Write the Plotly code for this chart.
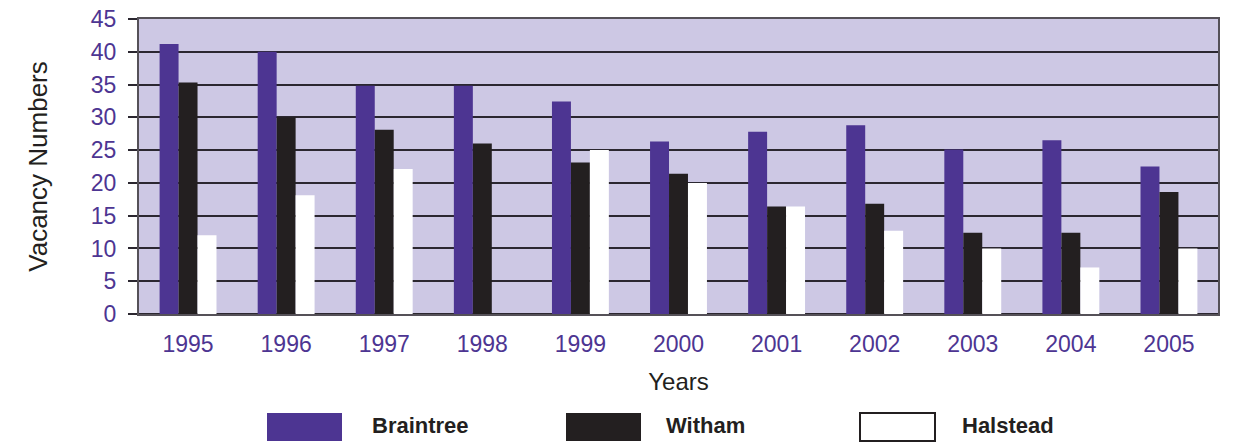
import plotly.graph_objects as go

# Vacancy numbers per year for each town
years = ["1995", "1996", "1997", "1998", "1999", "2000",
         "2001", "2002", "2003", "2004", "2005"]
braintree = [41.2, 40.0, 34.8, 34.8, 32.4, 26.3, 27.8, 28.8, 25.1, 26.5, 22.5]
witham = [35.3, 30.0, 28.1, 26.0, 23.1, 21.4, 16.4, 16.8, 12.4, 12.4, 18.6]
halstead = [12.0, 18.1, 22.1, 0.0, 25.0, 20.0, 16.4, 12.7, 10.0, 7.1, 10.0]
y_ticks = [0, 5, 10, 15, 20, 25, 30, 35, 40, 45]

PURPLE = "#4D3592"
BLACK = "#231F20"
LAVENDER = "#CDC8E4"
FONT = "Liberation Sans, Arial, Helvetica, sans-serif"

W, H = 1233, 442
M_L, M_R, M_T, M_B = 139, 15, 19, 128

fig = go.Figure()
fig.add_bar(name="Braintree", x=years, y=braintree,
            marker=dict(color=PURPLE, line=dict(width=0)))
fig.add_bar(name="Witham", x=years, y=witham,
            marker=dict(color=BLACK, line=dict(width=0)))
fig.add_bar(name="Halstead", x=years, y=halstead,
            marker=dict(color="#FFFFFF", line=dict(width=0)))

fig.update_layout(
    width=W, height=H,
    margin=dict(l=M_L, r=M_R, t=M_T, b=M_B, autoexpand=False),
    paper_bgcolor="white",
    plot_bgcolor=LAVENDER,
    barmode="group",
    bargap=0.42,
    bargroupgap=0,
    showlegend=False,
    font=dict(family=FONT, color=BLACK),
)

fig.update_xaxes(
    type="category",
    showgrid=False,
    showline=True, linecolor="#555158", linewidth=2, mirror=True,
    ticks="",
    tickfont=dict(size=23, color=PURPLE, family=FONT),
    ticklabelstandoff=8,
    title=dict(text="Years", font=dict(size=24, color=BLACK, family=FONT),
               standoff=18),
)

fig.update_yaxes(
    range=[0, 45],
    tickvals=y_ticks,
    showgrid=True, gridcolor="#2B2730", gridwidth=1.6,
    zeroline=True, zerolinecolor="#2B2730", zerolinewidth=2,
    showline=True, linecolor="#555158", linewidth=2, mirror=True,
    ticks="outside", ticklen=9, tickwidth=1.6, tickcolor="#2B2730",
    tickfont=dict(size=23, color=PURPLE, family=FONT),
    ticklabelstandoff=7,
    title=dict(text="Vacancy Numbers", font=dict(size=26, color=BLACK, family=FONT),
               standoff=36),
)

# Custom legend row beneath the chart with large swatches
plot_w = W - M_L - M_R
plot_h = H - M_T - M_B


def px_x(px):
    return (px - M_L) / plot_w


def px_y(py):
    return (H - M_B - py) / plot_h


legend_items = [
    ("Braintree", PURPLE, PURPLE, 267, 370),
    ("Witham", BLACK, BLACK, 566, 664),
    ("Halstead", "#FFFFFF", BLACK, 860, 960),
]
box_w = 75
box_top, box_bot = 413, 441
for label, fill, edge, bx, tx in legend_items:
    fig.add_shape(
        type="rect", xref="paper", yref="paper",
        x0=px_x(bx), x1=px_x(bx + box_w),
        y0=px_y(box_bot), y1=px_y(box_top),
        fillcolor=fill,
        line=dict(color=edge, width=2 if fill == "#FFFFFF" else 0),
        layer="above",
    )
    fig.add_annotation(
        text=f"<b>{label}</b>", xref="paper", yref="paper",
        x=px_x(tx), y=px_y(425), xanchor="left", yanchor="middle",
        showarrow=False, font=dict(size=22, color=BLACK, family=FONT),
    )

fig.write_html("out.html")
